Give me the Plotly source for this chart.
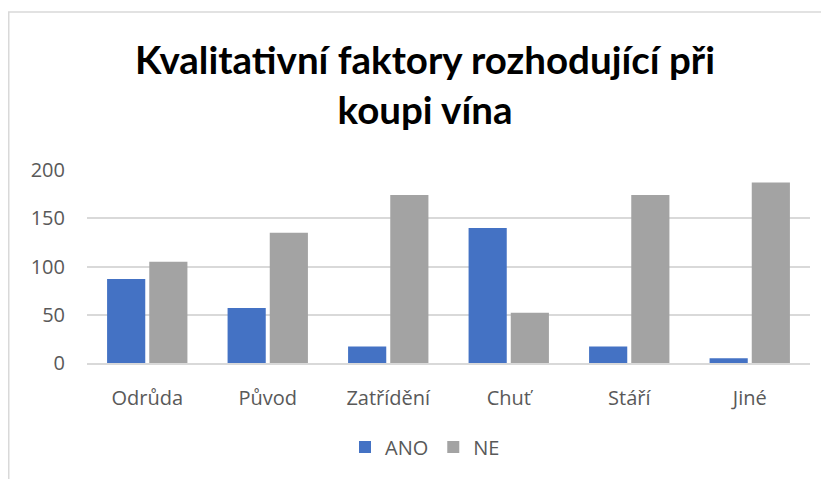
import plotly.graph_objects as go

categories = ["Odrůda", "Původ", "Zatřídění", "Chuť", "Stáří", "Jiné"]
ano_values = [87, 57, 17, 140, 17, 5]
ne_values = [105, 135, 174, 52, 174, 187]
y_ticks = [0, 50, 100, 150, 200]

# the page body adds an 8px margin, so figure coords = page coords - 8
OFF = 8
W, H = 829 - OFF, 479 - OFF
L, R, T, B = 87 - OFF, 829 - 810, 170 - OFF, 479 - 363
pw, ph = W - L - R, H - T - B

fig = go.Figure()
fig.add_trace(go.Bar(name="ANO", x=categories, y=ano_values,
                     marker=dict(color="#4472C4", line=dict(width=0))))
fig.add_trace(go.Bar(name="NE", x=categories, y=ne_values,
                     marker=dict(color="#A3A3A3", line=dict(width=0))))

axis_font = dict(family="Open Sans, sans-serif", size=20, color="#595959")

fig.update_layout(
    width=W, height=H,
    margin=dict(l=L, r=R, t=T, b=B),
    paper_bgcolor="white", plot_bgcolor="white",
    barmode="group", bargap=0.30, bargroupgap=0.095,
    title=dict(text="<b>Kvalitativní faktory rozhodující při<br>koupi vína</b>",
               x=(425 - OFF) / W, xref="container", xanchor="center",
               y=1 - 66 / H, yref="container", yanchor="top",
               font=dict(family="Lato, sans-serif", size=38.5, color="#000000")),
    xaxis=dict(tickfont=axis_font, showgrid=False, showline=True,
               linecolor="#D9D9D9", linewidth=1.5, ticks="", ticklabelstandoff=16),
    yaxis=dict(range=[0, 200], tickvals=y_ticks, tickfont=axis_font,
               showgrid=True, gridcolor="#D9D9D9", gridwidth=1.5,
               zeroline=False, showline=False, ticks="", ticklabelstandoff=21),
    legend=dict(orientation="h", x=(425 - 87) / pw, xanchor="center",
                y=(363 - 447) / ph, yanchor="middle",
                font=axis_font, itemwidth=30, traceorder="normal"),
    shapes=[dict(type="rect", xref="paper", yref="paper",
                 x0=(0.75 - L) / pw, x1=(W + 10 - L) / pw,
                 y0=(H - B - (H + 10)) / ph, y1=(H - B - 4) / ph,
                 line=dict(color="#D9D9D9", width=1.5), layer="below")],
)

fig.write_html("out.html")
